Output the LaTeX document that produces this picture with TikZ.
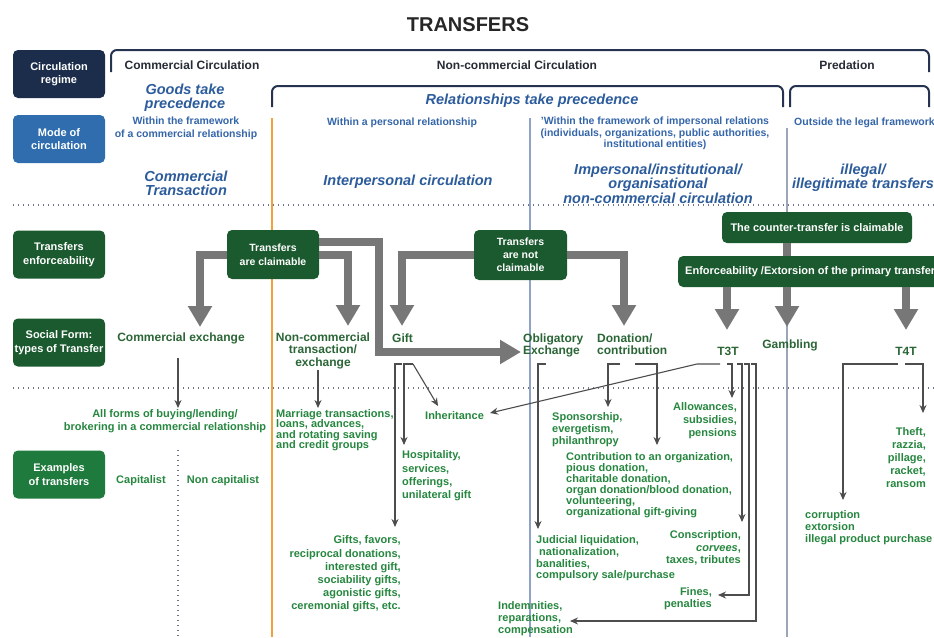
\documentclass[tikz,border=0pt]{standalone}
\usepackage{fontspec}
\setmainfont{Liberation Sans}
\usetikzlibrary{arrows.meta}
\definecolor{navy}{HTML}{1B2D4B}
\definecolor{modeb}{HTML}{2F6DAE}
\definecolor{boxgreen}{HTML}{1B5A2F}
\definecolor{exgreen}{HTML}{1F7A3D}
\definecolor{sgreen}{HTML}{2B6637}
\definecolor{egreen}{HTML}{26873F}
\definecolor{blueA}{HTML}{2C5C9C}
\definecolor{blueB}{HTML}{3566AA}
\definecolor{headc}{HTML}{262B36}
\definecolor{arrgray}{HTML}{777777}
\definecolor{thinc}{HTML}{4D4D4D}
\definecolor{orangel}{HTML}{F0A23A}
\definecolor{bluel}{HTML}{8FA3C8}
\definecolor{grayl}{HTML}{9AA5B8}
\definecolor{dotc}{HTML}{6E7485}
\definecolor{brk}{HTML}{253350}
\newcommand\myfs[2]{\fontsize{#1}{#2}\selectfont}
\begin{document}
\begin{tikzpicture}[x=1pt,y=-1pt,
  lbox/.style={rounded corners=5pt, minimum width=92pt, minimum height=48pt, text=white, font=\bfseries\myfs{11}{13.5}, align=center, inner sep=1pt},
  gbox/.style={fill=boxgreen, rounded corners=5pt, text=white, font=\bfseries\myfs{10.5}{14}, align=center, inner sep=2pt},
  head/.style={font=\bfseries\myfs{12}{14}, text=headc, inner sep=0pt},
  bigblue/.style={font=\bfseries\itshape\myfs{14.5}{12.5}, text=blueA, align=center, inner sep=0pt},
  smallblue/.style={font=\bfseries\myfs{10.5}{12.5}, text=blueB, align=center, inner sep=0pt},
  sform/.style={font=\bfseries\myfs{12}{12.5}, text=sgreen, inner sep=0pt},
  ex/.style={font=\bfseries\myfs{11}{13}, text=egreen, inner sep=0pt},
  bigarrow/.style={draw=arrgray, line width=8pt, -{Triangle[width=23pt,length=21pt]}},
  bigline/.style={draw=arrgray, line width=8pt},
  thinarrow/.style={draw=thinc, line width=1.1pt, -{Stealth[length=8pt,width=7pt]}},
  thinline/.style={draw=thinc, line width=1.1pt},
  dotline/.style={draw=dotc, line width=1.3pt, dash pattern=on 1.3pt off 3.7pt},
  brack/.style={draw=brk, line width=2pt, rounded corners=6pt}
]
\useasboundingbox (0,0) rectangle (934,637);
\clip (0,0) rectangle (934,637);
\fill[white] (0,0) rectangle (934,637);

% background lines
\draw[dotline] (13,205) -- (934,205);
\draw[dotline] (13,388) -- (934,388);
\draw[dotline] (178,450) -- (178,637);
\draw[draw=orangel, line width=1.6pt] (272,118) -- (272,637);
\draw[draw=bluel, line width=1.2pt] (530,118) -- (530,637);
\draw[draw=grayl, line width=1.2pt] (787,128) -- (787,637);
\draw[brack] (111,72) -- (111,50) -- (929,50) -- (929,72);
\draw[brack] (272,107) -- (272,86) -- (783,86) -- (783,107);
\draw[brack] (790,107) -- (790,86) -- (929,86) -- (929,107);

% title and headings
\node[font=\bfseries\myfs{20}{22}, text=black!85, inner sep=0pt] (title) at (468,25) {TRANSFERS};
\node[head] (hcom) at (192,65) {Commercial Circulation};
\node[head] (hnon) at (517,65) {Non-commercial Circulation};
\node[head] (hpred) at (847,65) {Predation};
\node[bigblue, font=\bfseries\itshape\myfs{14.5}{13.5}] (goods) at (185,97.5) {Goods take\\precedence};
\node[bigblue] (rel) at (532,101) {Relationships take precedence};
\node[smallblue] (w1) at (186,128.5) {Within the framework\\of a commercial relationship};
\node[smallblue] (w2) at (402,123) {Within a personal relationship};
\node[smallblue, font=\bfseries\myfs{10.5}{11.5}] (w3) at (655,133.5) {'Within the framework of impersonal relations\\(individuals, organizations, public authorities,\\institutional entities)};
\node[smallblue, anchor=west] (w4) at (794,123) {Outside the legal framework};
\node[bigblue, font=\bfseries\itshape\myfs{14.5}{14}] (ct) at (186,183) {Commercial\\Transaction};
\node[bigblue] (ip) at (408,182) {Interpersonal circulation};
\node[bigblue, font=\bfseries\itshape\myfs{14.5}{13}] (imp) at (658,183.5) {Impersonal/institutional/\\organisational\\non-commercial circulation};
\node[bigblue, font=\bfseries\itshape\myfs{14.5}{14}] (ill) at (863,178) {illegal/\\illegitimate transfers};

% left label boxes
\node[lbox, fill=navy] (regime) at (59,74) {Circulation\\regime};
\node[lbox, fill=modeb] (mode) at (59,139) {Mode of\\circulation};
\node[lbox, fill=boxgreen] (enfl) at (59,254.5) {Transfers\\enforceability};
\node[lbox, fill=boxgreen] (social) at (59,342.5) {Social Form:\\types of Transfer};
\node[lbox, fill=exgreen] (examples) at (59,474.5) {Examples\\of transfers};

% enforceability boxes
\node[gbox, minimum width=92pt, minimum height=49pt] (claim) at (273,254.5) {Transfers\\are claimable};
\node[gbox, minimum width=93pt, minimum height=50pt, font=\bfseries\myfs{10.5}{13}] (notclaim) at (520.5,255) {Transfers\\are not\\claimable};
\node[gbox, minimum width=190pt, minimum height=31pt, font=\bfseries\myfs{11}{13}] (counter) at (817,227.5) {The counter-transfer is claimable};
\node[gbox, anchor=west, minimum height=31pt, inner xsep=7pt, font=\bfseries\myfs{11}{13}] (enf) at (678,271.5) {Enforceability /Extorsion of the primary transfer};

% social forms
\node[sform] (comex) at (181,338) {Commercial exchange};
\node[sform, align=center] (noncom) at (323,350.5) {Non-commercial\\transaction/\\exchange};
\node[sform, anchor=west] (gift) at (392,338) {Gift};
\node[sform, anchor=west, align=left] (oblig) at (523,345.5) {Obligatory\\Exchange};
\node[sform, anchor=west, align=left] (don) at (597,344) {Donation/\\contribution};
\node[sform] (t3t) at (728,351) {T3T};
\node[sform] (gamb) at (790,345) {Gambling};
\node[sform] (t4t) at (906,351) {T4T};

% examples
\node[ex, align=center] (allf) at (165,421) {All forms of buying/lending/\\brokering in a commercial relationship};
\node[ex] (cap) at (141,481) {Capitalist};
\node[ex] (noncap) at (223,481) {Non capitalist};
\node[ex, anchor=west, align=left, font=\bfseries\myfs{11}{10.5}] (marr) at (276,430) {Marriage transactions,\\loans, advances,\\and rotating saving\\and credit groups};
\node[ex, anchor=west] (inh) at (425,416) {Inheritance};
\node[ex, anchor=west, align=left, font=\bfseries\myfs{11}{13.3}] (hosp) at (402,476) {Hospitality,\\services,\\offerings,\\unilateral gift};
\node[ex, anchor=west, align=left, font=\bfseries\myfs{11}{12}] (spon) at (552,430) {Sponsorship,\\evergetism,\\philanthropy};
\node[ex, anchor=east, align=right] (allow) at (737,421) {Allowances,\\subsidies,\\pensions};
\node[ex, anchor=west, align=left, font=\bfseries\myfs{11}{11}] (contrib) at (566,485.5) {Contribution to an organization,\\pious donation,\\charitable donation,\\organ donation/blood donation,\\volunteering,\\organizational gift-giving};
\node[ex, anchor=east, align=right, font=\bfseries\myfs{11}{13.2}] (gifts) at (401,574) {Gifts, favors,\\reciprocal donations,\\interested gift,\\sociability gifts,\\agonistic gifts,\\ceremonial gifts, etc.};
\node[ex, anchor=west, align=left, font=\bfseries\myfs{11}{11.7}] (jud) at (536,558.5) {Judicial liquidation,\\\hspace*{3pt}nationalization,\\banalities,\\compulsory sale/purchase};
\node[ex, anchor=east, align=right, font=\bfseries\myfs{11}{12.3}] (consc) at (741,548) {Conscription,\\\textit{corvees},\\taxes, tributes};
\node[ex, anchor=east, align=right, font=\bfseries\myfs{11}{12}] (fines) at (712,599) {Fines,\\penalties};
\node[ex, anchor=west, align=left, font=\bfseries\myfs{11}{12}] (indem) at (498,619) {Indemnities,\\reparations,\\compensation};
\node[ex, anchor=west, align=left, font=\bfseries\myfs{11}{11.7}] (corr) at (805,527.5) {corruption\\extorsion\\illegal product purchase};
\node[ex, anchor=east, align=right, font=\bfseries\myfs{11}{12.8}] (theft) at (926,457.5) {Theft,\\razzia,\\pillage,\\racket,\\ransom};

% thick arrows
\coordinate (t1) at (200,327);
\coordinate (t2) at (348,326);
\coordinate (b3) at (379,352);
\coordinate (t3) at (521,352);
\coordinate (t4) at (402,326);
\coordinate (t5) at (624,326);
\coordinate (t6) at (727,330);
\coordinate (t7) at (787,327);
\coordinate (t8) at (906,330);
\draw[bigarrow] (claim.west) -| (t1);
\draw[bigarrow] (claim.east) -| (t2);
\draw[bigarrow] ([yshift=13pt]claim.east) -| (b3) -- (t3);
\draw[bigarrow] (notclaim.west) -| (t4);
\draw[bigarrow] (notclaim.east) -| (t5);
\draw[bigarrow] (enf.south -| t6) -- (t6);
\draw[bigline] (counter.south -| t7) -- (enf.north -| t7);
\draw[bigarrow] (enf.south -| t7) -- (t7);
\draw[bigarrow] (enf.south -| t8) -- (t8);

% thin connectors
\coordinate (a1) at (178,358); \coordinate (a1e) at (178,408);
\coordinate (a2) at (318,370); \coordinate (a2e) at (318,408);
\draw[thinarrow] (a1) -- (a1e);
\draw[thinarrow] (a2) -- (a2e);
\coordinate (g0) at (402,364); \coordinate (g1) at (395,364); \coordinate (g2) at (395,527);
\coordinate (h0) at (413,364); \coordinate (h1) at (404,364); \coordinate (h2) at (404,445);
\coordinate (i1) at (438,406);
\draw[thinarrow] (g0) -- (g1) -- (g2);
\draw[thinarrow] (h0) -- (h1) -- (h2);
\draw[thinarrow] (h0) -- (i1);
\coordinate (o0) at (546,364); \coordinate (o1) at (538,364); \coordinate (o2) at (538,529);
\draw[thinarrow] (o0) -- (o1) -- (o2);
\coordinate (d0) at (620,364); \coordinate (d1) at (608,364); \coordinate (d2) at (608,407);
\coordinate (e0) at (635,364); \coordinate (e1) at (657,364); \coordinate (e2) at (657,445);
\draw[thinarrow] (d0) -- (d1) -- (d2);
\draw[thinarrow] (e0) -- (e1) -- (e2);
\coordinate (k0) at (720,364); \coordinate (k1) at (697,364); \coordinate (k2) at (490,413);
\coordinate (m0) at (727,364); \coordinate (m1) at (732,364); \coordinate (m2) at (732,398);
\coordinate (n0) at (737,364); \coordinate (n1) at (742,364); \coordinate (n2) at (742,522);
\coordinate (p0) at (744,364); \coordinate (p1) at (749,364); \coordinate (p2) at (749,595); \coordinate (p3) at (718,595);
\coordinate (q0) at (751,364); \coordinate (q1) at (756,364); \coordinate (q2) at (756,621); \coordinate (q3) at (570,621);
\draw[thinarrow] (k0) -- (k1) -- (k2);
\draw[thinarrow] (m0) -- (m1) -- (m2);
\draw[thinarrow] (n0) -- (n1) -- (n2);
\draw[thinarrow] (p0) -- (p1) -- (p2) -- (p3);
\draw[thinarrow] (q0) -- (q1) -- (q2) -- (q3);
\coordinate (r0) at (898,364); \coordinate (r1) at (843,364); \coordinate (r2) at (843,500);
\coordinate (s0) at (905,364); \coordinate (s1) at (923,364); \coordinate (s2) at (923,413);
\draw[thinarrow] (r0) -- (r1) -- (r2);
\draw[thinarrow] (s0) -- (s1) -- (s2);
\end{tikzpicture}
\end{document}
